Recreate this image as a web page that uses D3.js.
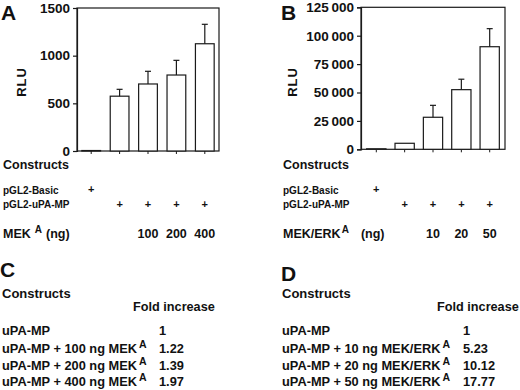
<!DOCTYPE html>
<html><head><meta charset="utf-8">
<script src="https://cdn.jsdelivr.net/npm/d3@7/dist/d3.min.js"></script>
<style>
body{margin:0;background:#fff;}
svg text{font-family:"Liberation Sans",Arial,Helvetica,sans-serif;font-weight:bold;fill:#111;}
</style></head>
<body><svg id="c" width="520" height="390"></svg>
<script>
// ---- data ----
const barsA = ["pGL2-Basic","uPA-MP","100","200","400"];
const rluA = [5, 575, 703, 797, 1125];
const errA = [0, 72, 133, 154, 204];
const ticksA = [0, 500, 1000, 1500];

const barsB = ["pGL2-Basic","uPA-MP","10","20","50"];
const rluB = [450, 5300, 28200, 52500, 90300];
const errB = [0, 0, 10500, 9200, 15900];
const ticksB = [0, 25000, 50000, 75000, 100000, 125000];

const basicRowA = ["+","","","",""];
const uPARowA = ["","+","+","+","+"];
const doseA = ["","","100","200","400"];
const basicRowB = ["+","","","",""];
const uPARowB = ["","+","+","+","+"];
const doseB = ["","","10","20","50"];

const tableCLabels = ["uPA-MP","uPA-MP + 100 ng MEK","uPA-MP + 200 ng MEK","uPA-MP + 400 ng MEK"];
const tableCSup = ["","A","A","A"];
const tableCFold = ["1","1.22","1.39","1.97"];
const tableDLabels = ["uPA-MP","uPA-MP + 10 ng MEK/ERK","uPA-MP + 20 ng MEK/ERK","uPA-MP + 50 ng MEK/ERK"];
const tableDSup = ["","A","A","A"];
const tableDFold = ["1","5.23","10.12","17.77"];

// ---- drawing ----
const svg = d3.select("#c");
const ink = "#1a1a1a";
const thin = d3.formatLocale({decimal:".",thousands:"\u2009",grouping:[3],currency:["",""]}).format(",");

function panel(cfg){
  const x = d3.scaleBand().domain(d3.range(cfg.vals.length)).range([cfg.x0,cfg.x1])
     .paddingInner(cfg.pi).paddingOuter(cfg.po);
  const y = d3.scaleLinear().domain([0,cfg.max]).range([cfg.yb,cfg.yt]);
  const g = svg.append("g");
  g.append("rect").attr("x",cfg.x0).attr("y",cfg.yt).attr("width",cfg.x1-cfg.x0).attr("height",cfg.yb-cfg.yt)
   .attr("fill","none").attr("stroke",ink).attr("stroke-width",1.2);
  const ya = g.append("g").attr("transform",`translate(${cfg.x0},0)`)
    .call(d3.axisLeft(y).tickValues(cfg.ticks).tickSize(4).tickPadding(3).tickFormat(cfg.fmt));
  ya.select(".domain").attr("stroke",ink).attr("stroke-width",1.2);
  ya.selectAll(".tick line").attr("stroke",ink).attr("stroke-width",1.2);
  ya.selectAll("text").attr("font-size",cfg.tickFs).attr("font-weight","bold").attr("fill","#111")
    .attr("font-family","Liberation Sans, Arial, sans-serif");
  const xa = g.append("g").attr("transform",`translate(0,${cfg.yb})`)
    .call(d3.axisBottom(x).tickSize(3).tickFormat(""));
  xa.select(".domain").remove();
  xa.selectAll(".tick line").attr("stroke",ink).attr("stroke-width",1);
  g.selectAll(".bar").data(cfg.vals).enter().append("rect")
   .attr("x",(d,i)=>x(i)).attr("width",x.bandwidth())
   .attr("y",d=>y(d)).attr("height",d=>y(0)-y(d))
   .attr("fill","#fff").attr("stroke",ink).attr("stroke-width",1.2);
  cfg.vals.forEach((v,i)=>{
    const e = cfg.err[i]; if(!e) return;
    const cx = x(i)+x.bandwidth()/2;
    g.append("line").attr("x1",cx).attr("x2",cx).attr("y1",y(v)).attr("y2",y(v+e)).attr("stroke",ink).attr("stroke-width",1.2);
    g.append("line").attr("x1",cx-3).attr("x2",cx+3).attr("y1",y(v+e)).attr("y2",y(v+e)).attr("stroke",ink).attr("stroke-width",1.2);
  });
  svg.append("text").attr("x",cfg.lx).attr("y",20).attr("font-size",21).text(cfg.letter);
  svg.append("text").attr("transform",`translate(${cfg.rx},82) rotate(-90)`).attr("text-anchor","middle").attr("font-size",13).attr("letter-spacing",1).text("RLU");
  svg.append("text").attr("x",cfg.cx).attr("y",169).attr("font-size",12.5).text("Constructs");
  svg.append("text").attr("x",cfg.cx).attr("y",194).attr("font-size",10).text("pGL2-Basic");
  svg.append("text").attr("x",cfg.cx).attr("y",208).attr("font-size",10).text("pGL2-uPA-MP");
  const cxs = i => x(i)+x.bandwidth()/2;
  cfg.basic.forEach((s,i)=>{ if(s) svg.append("text").attr("x",cxs(i)).attr("y",193).attr("text-anchor","middle").attr("font-size",11).text(s);});
  cfg.upa.forEach((s,i)=>{ if(s) svg.append("text").attr("x",cxs(i)).attr("y",207.5).attr("text-anchor","middle").attr("font-size",11).text(s);});
  cfg.dose.forEach((s,i)=>{ if(s) svg.append("text").attr("x",cxs(i)).attr("y",238).attr("text-anchor","middle").attr("font-size",12.5).text(s);});
  const t = svg.append("text").attr("x",cfg.cx).attr("y",238).attr("font-size",12.5);
  t.append("tspan").text(cfg.doseLabel);
  t.append("tspan").attr("dx",cfg.supDx).attr("dy",-5).attr("font-size",10).text("A");
  t.append("tspan").attr("dx",cfg.ngDx).attr("dy",5).text("(ng)");
}

panel({vals:rluA,err:errA,max:1500,ticks:ticksA,fmt:d3.format("d"),tickFs:13.5,x0:77,x1:219,yt:8,yb:151,pi:0.34,po:0.17,
  letter:"A",lx:1,rx:26,cx:3,basic:basicRowA,upa:uPARowA,dose:doseA,doseLabel:"MEK",supDx:4,ngDx:4});
panel({vals:rluB,err:errB,max:125000,ticks:ticksB,fmt:thin,tickFs:13.5,x0:361,x1:505,yt:7.3,yb:149.3,pi:0.32,po:0.2,
  letter:"B",lx:281,rx:297,cx:283,basic:basicRowB,upa:uPARowB,dose:doseB,doseLabel:"MEK/ERK",supDx:1,ngDx:12});

function table(letter, lx, ly, x0, foldX, valX, labels, sups, folds){
  svg.append("text").attr("x",lx).attr("y",ly).attr("font-size",21).text(letter);
  svg.append("text").attr("x",x0).attr("y",298).attr("font-size",13).text("Constructs");
  svg.append("text").attr("x",foldX).attr("y",311).attr("font-size",12.7).text("Fold increase");
  const rowY = [335, 352.5, 369.5, 386];
  labels.forEach((l,i)=>{
    const t = svg.append("text").attr("x",x0).attr("y",rowY[i]).attr("font-size",12.8);
    t.append("tspan").text(l);
    if(sups[i]) t.append("tspan").attr("dx",2).attr("dy",-5).attr("font-size",10.5).text(sups[i]);
    svg.append("text").attr("x",valX).attr("y",rowY[i]).attr("font-size",12.8).text(folds[i]);
  });
}
table("C", 0, 277, 2, 133, 159, tableCLabels, tableCSup, tableCFold);
table("D", 281, 281, 282, 437, 463, tableDLabels, tableDSup, tableDFold);
</script></body></html>
